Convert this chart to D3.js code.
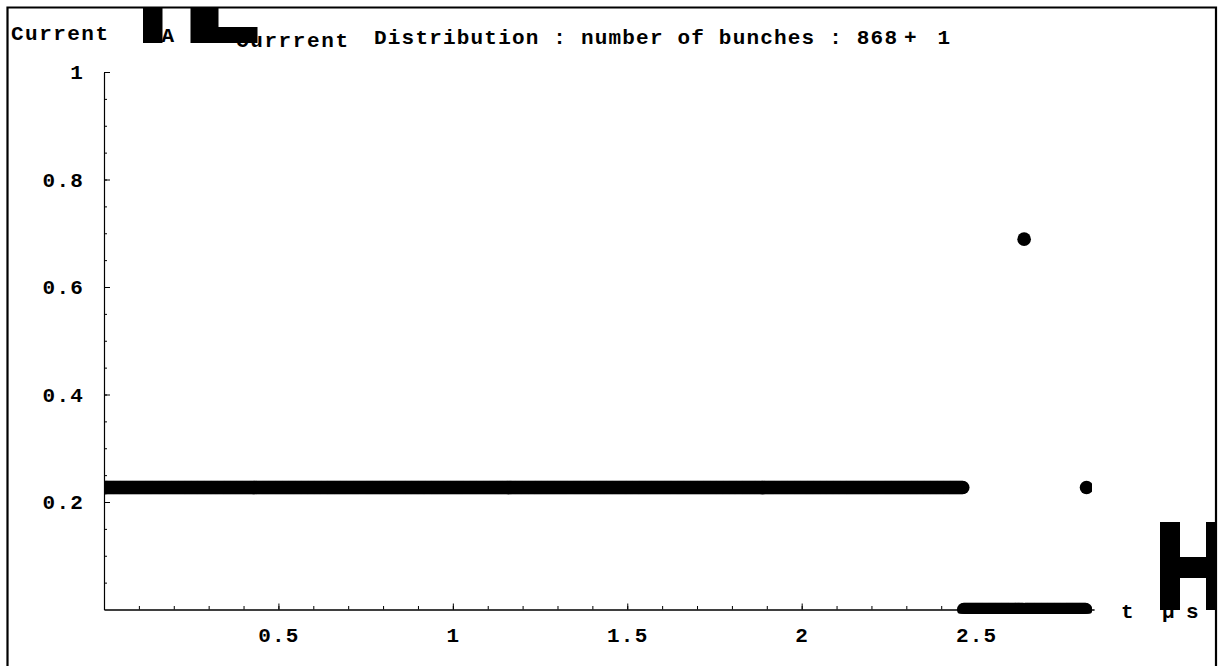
<!DOCTYPE html>
<html>
<head>
<meta charset="utf-8">
<script src="https://cdn.jsdelivr.net/npm/d3@7"></script>
<style>
  html, body { margin: 0; padding: 0; background: #fff; }
  svg { display: block; }
  text { font-family: "Liberation Mono", "DejaVu Sans Mono", monospace; font-weight: bold; fill: #000; }
</style>
</head>
<body>
<svg id="chart" width="1218" height="666"></svg>
<script>
// Fill pattern of the storage ring, one entry per run of consecutive RF buckets
const bucketSpacing = 0.0028393;                 // μs between RF buckets
const runLength  = [868, 61, 1, 62, 1];          // buckets in each run
const runCurrent = [0.227, 0, 0.689, 0, 0.227];  // current per bunch in each run [mA]

// Axis ticks
const xMajorTicks = [0.5, 1, 1.5, 2, 2.5];
const xTickLabels = ["0.5", "1", "1.5", "2", "2.5"];
const yMajorTicks = [0.2, 0.4, 0.6, 0.8, 1];
const yTickLabels = ["0.2", "0.4", "0.6", "0.8", "1"];
const xDomain = [0, 2.838];
const yDomain = [0, 1];

// Expand the runs into one record per bucket
const bunches = [];
let bucket = 0;
runLength.forEach((n, i) => {
  for (let k = 0; k < n; k++) {
    bunches.push({ t: bucket * bucketSpacing, current: runCurrent[i] });
    bucket++;
  }
});

const svg = d3.select("#chart");

const x = d3.scaleLinear().domain(xDomain).range([104, 1094]);
const y = d3.scaleLinear().domain(yDomain).range([609.5, 72]);

// Outer frame
svg.append("path")
  .attr("d", "M7.5,670 V7.5 H1216 V670")
  .attr("fill", "none")
  .attr("stroke", "#000")
  .attr("stroke-width", 2.2);

// Plot clip region
svg.append("clipPath").attr("id", "plotClip")
  .append("rect")
  .attr("x", x(xDomain[0])).attr("y", y(yDomain[1]) - 10)
  .attr("width", x(xDomain[1]) - 2 - x(xDomain[0]))
  .attr("height", y(0) + 4 - (y(yDomain[1]) - 10));

// Axes
const fmtX = d => xTickLabels[xMajorTicks.indexOf(d)];
const fmtY = d => yTickLabels[yMajorTicks.indexOf(d)];

const xAxisMinor = d3.axisBottom(x)
  .tickValues(d3.range(1, 29).map(i => i / 10).filter(v => v <= xDomain[1]))
  .tickSize(-3.5).tickSizeOuter(0).tickFormat("");
const xAxisMajor = d3.axisBottom(x)
  .tickValues(xMajorTicks).tickSize(-6).tickSizeOuter(0)
  .tickPadding(18).tickFormat(fmtX);

const yAxisMinor = d3.axisLeft(y)
  .tickValues(d3.range(1, 21).map(i => i / 20))
  .tickSize(-3).tickSizeOuter(0).tickFormat("");
const yAxisMajor = d3.axisLeft(y)
  .tickValues(yMajorTicks).tickSize(-6).tickSizeOuter(0)
  .tickPadding(20).tickFormat(fmtY);

function styleAxis(g) {
  g.attr("font-family", null).attr("font-size", null);
  g.selectAll("path.domain").attr("stroke", "#000").attr("stroke-width", 1.1);
  g.selectAll(".tick line").attr("stroke", "#000").attr("stroke-width", 1);
  g.selectAll(".tick text")
    .style("font-size", "21px")
    .attr("letter-spacing", "1.2px");
}

svg.append("g").attr("transform", `translate(0,${y(0)})`).call(xAxisMinor).call(styleAxis);
svg.append("g").attr("transform", `translate(0,${y(0)})`).call(xAxisMajor).call(styleAxis);
svg.append("g").attr("transform", `translate(${x(0)},0)`).call(yAxisMinor).call(styleAxis);
svg.append("g").attr("transform", `translate(${x(0)},0)`).call(yAxisMajor).call(styleAxis);

// Bunch currents
svg.append("g").attr("clip-path", "url(#plotClip)")
  .selectAll("circle")
  .data(bunches)
  .join("circle")
  .attr("cx", d => x(d.t))
  .attr("cy", d => y(d.current))
  .attr("r", 6.8)
  .attr("fill", "#000");

// Labels
svg.append("text").attr("x", 11).attr("y", 40)
  .attr("textLength", 97).attr("lengthAdjust", "spacing")
  .style("font-size", "21px").text("Current");
svg.append("text").attr("x", 148).attr("y", 42)
  .style("font-size", "21px").attr("letter-spacing", "1px").text("mA");

svg.append("text").attr("x", 236).attr("y", 47)
  .attr("textLength", 112).attr("lengthAdjust", "spacing")
  .style("font-size", "21px").text("Currrent");
svg.append("text").attr("x", 374).attr("y", 44)
  .attr("textLength", 523).attr("lengthAdjust", "spacing")
  .style("font-size", "21px").text("Distribution : number of bunches : 868");
svg.append("text").attr("x", 904).attr("y", 44)
  .attr("textLength", 46).attr("lengthAdjust", "spacing")
  .style("font-size", "21px").text("+1");

svg.append("text").attr("x", 1121).attr("y", 618)
  .style("font-size", "21px").text("t");
svg.append("text").attr("x", 1162).attr("y", 618)
  .style("font-size", "21px").text("μ");
svg.append("text").attr("x", 1186).attr("y", 618)
  .style("font-size", "21px").text("s");

// Oversized bracket glyphs around the units
const glyphs = svg.append("g").attr("fill", "#000");
glyphs.append("path").attr("d", "M143,7 H162.5 V43 H143 Z");
glyphs.append("path").attr("d", "M190.5,7 H218.5 V27 H257.5 V43 H190.5 Z");
glyphs.append("path").attr("d", "M1160,522 H1180 V557 H1206 V522 H1216 V610 H1206 V578 H1180 V610 H1160 Z");
</script>
</body>
</html>
